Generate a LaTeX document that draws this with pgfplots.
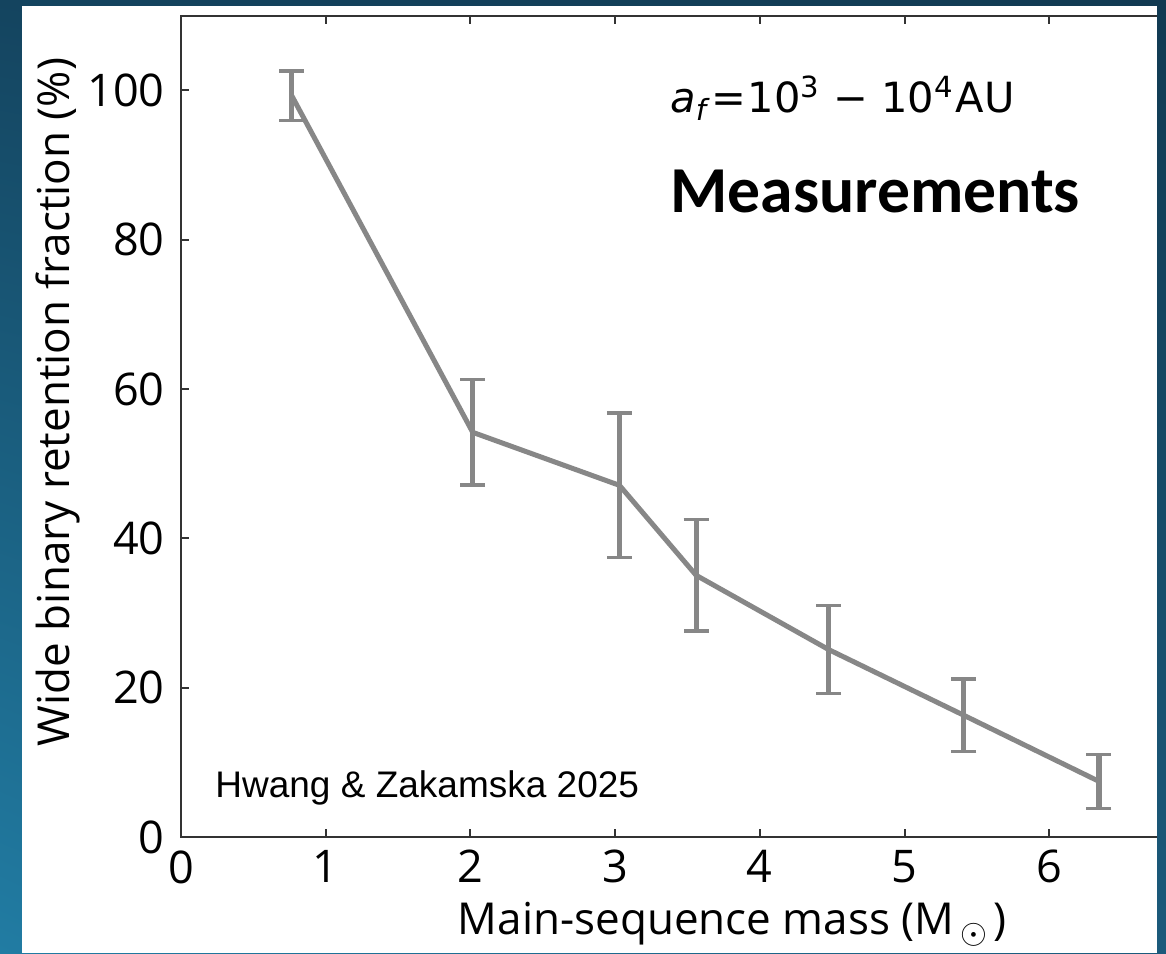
\documentclass[border=0pt]{standalone}
\usepackage{pgfplots}
\pgfplotsset{compat=1.18}
\usetikzlibrary{shadings}
\usepackage{fontspec}
\setmainfont{Open Sans}
\newfontfamily\carlito{Carlito}
\newfontfamily\libsans{Liberation Sans}
\newfontfamily\dejavu{DejaVu Sans}
\definecolor{bgTL}{HTML}{14445F}
\definecolor{bgTR}{HTML}{113A52}
\definecolor{bgBL}{HTML}{217CA3}
\definecolor{bgBR}{HTML}{1B5A7B}
\definecolor{axiscol}{HTML}{333333}
\definecolor{linecol}{HTML}{878787}
\begin{document}
\begin{tikzpicture}
\shade[upper left=bgTL, upper right=bgTR, lower left=bgBL, lower right=bgBR] (0,0) rectangle (583pt,476.5pt);
\begin{scope}
\clip (11pt,0) rectangle (578.5pt,473.5pt);
\fill[white] (11pt,0) rectangle (578.5pt,473.5pt);
\begin{axis}[
  at={(90.5pt,58pt)}, anchor=south west,
  scale only axis, width=506.45pt, height=410.65pt,
  xmin=0, xmax=7, ymin=0, ymax=110,
  xtick={0,1,2,3,4,5,6}, ytick={0,20,40,60,80,100},
  tick align=inside, major tick length=4pt,
  ytick pos=left,
  axis line style={draw=axiscol, line width=1.1pt},
  tick style={draw=axiscol, line width=1pt},
  /pgf/number format/assume math mode=true,
  ticklabel style={font=\fontsize{22.5}{25}\selectfont, text=black},
  yticklabel style={inner sep=0pt, xshift=-8pt},
  xticklabel style={inner sep=0pt, yshift=-6.5pt},
  xlabel={Main-sequence mass (M\hspace{3pt}{\fontsize{17}{17}\selectfont\raisebox{-4.3pt}{$\odot$}}\hspace{3pt})},
  xlabel style={font=\fontsize{22}{24}\selectfont, at={(axis description cs:0.544,-0.1193)}, anchor=base},
  ylabel={Wide binary retention fraction (\%)},
  ylabel style={font=\fontsize{22}{24}\selectfont, at={(axis description cs:-0.1096,0.5297)}, anchor=base, rotate=0},
  clip=false,
]
\addplot[color=linecol, line width=2.5pt, mark=none,
  error bars/.cd, y dir=both, y explicit,
  error bar style={line width=2.6pt, color=linecol},
  error mark options={rotate=90, mark size=6.25pt, line width=1.7pt, color=linecol}]
coordinates {
  (0.765,99.3) +- (0,3.3)
  (2.016,54.2) +- (0,7.05)
  (3.03,47.1) +- (0,9.7)
  (3.56,35.05) +- (0,7.45)
  (4.476,25.1) +- (0,5.9)
  (5.41,16.3) +- (0,4.85)
  (6.344,7.45) +- (0,3.6)
};
\end{axis}
\end{scope}
\node[anchor=base west, inner sep=0, font=\dejavu\fontsize{20.8}{22}\selectfont] at (335pt,420pt)
  {\textit{a}\textsubscript{\textit{f}}\hspace{0.5pt}=\hspace{0.5pt}10\textsuperscript{3} − 10\textsuperscript{4}\hspace{1pt}AU};
\node[anchor=base west, inner sep=0, font=\carlito\bfseries\fontsize{32.8}{35}\selectfont] at (335pt,370pt) {Measurements};
\node[anchor=base west, inner sep=0, font=\libsans\fontsize{18.5}{20}\selectfont] at (107.5pt,78pt) {Hwang \& Zakamska 2025};
\pgfresetboundingbox
\path[use as bounding box] (0,0) rectangle (583pt,476.5pt);
\end{tikzpicture}
\end{document}
